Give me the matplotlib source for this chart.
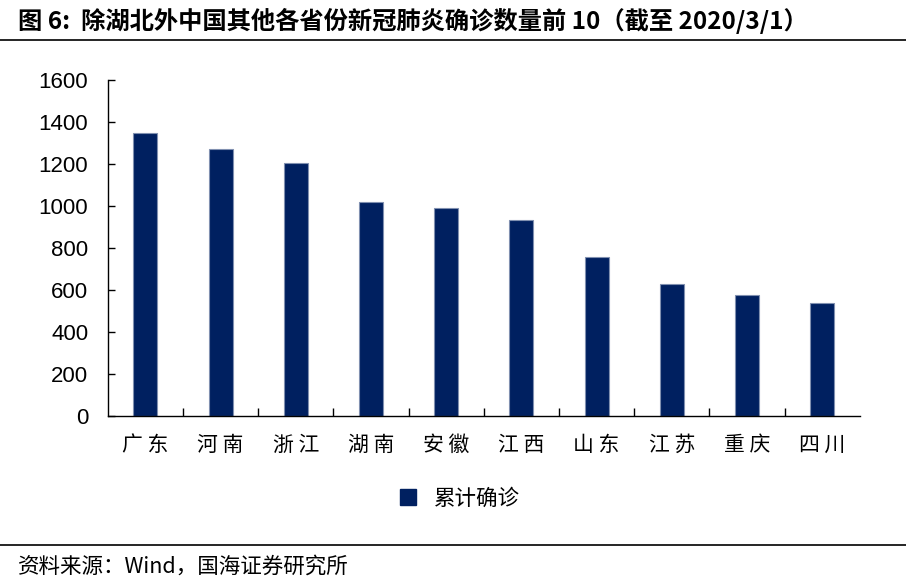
import matplotlib
matplotlib.use("Agg")
import matplotlib.pyplot as plt
from matplotlib.lines import Line2D

provinces = ["广东", "河南", "浙江", "湖南", "安徽", "江西", "山东", "江苏", "重庆", "四川"]
confirmed = [1349, 1272, 1205, 1018, 990, 935, 756, 631, 576, 538]
yticks = [0, 200, 400, 600, 800, 1000, 1200, 1400, 1600]

title = "图 6:  除湖北外中国其他各省份新冠肺炎确诊数量前 10（截至 2020/3/1）"
source = "资料来源：Wind，国海证券研究所"
series_name = "累计确诊"

cjk = ["Noto Sans CJK SC", "DejaVu Sans"]
num_font = "Liberation Sans"
bar_color = "#002060"

fig = plt.figure(figsize=(9.06, 5.85), dpi=100)
ax = fig.add_axes([0.119, 0.289, 0.830, 0.574])

x = list(range(len(provinces)))
ax.bar(x, confirmed, width=0.32, color=bar_color, edgecolor="#8090b0", linewidth=0.8)

ax.set_xlim(-0.5, len(provinces) - 0.5)
ax.set_ylim(0, 1600)
ax.set_yticks(yticks)
ax.set_yticklabels([str(v) for v in yticks], fontfamily=num_font, fontsize=16)
ax.tick_params(axis="y", direction="in", length=5, width=1, pad=14)

# category labels centred on bars, tick marks between categories
ax.set_xticks(x)
ax.set_xticklabels([" ".join(p) for p in provinces], fontfamily=cjk, fontsize=15)
ax.tick_params(axis="x", length=0, pad=13)
ax.set_xticks([i + 0.5 for i in x[:-1]], minor=True)
ax.tick_params(axis="x", which="minor", direction="in", length=6, width=1)

for s in ["top", "right"]:
    ax.spines[s].set_visible(False)
ax.spines["left"].set_linewidth(1)
ax.spines["bottom"].set_linewidth(1)

handle = Line2D([], [], marker="s", linestyle="none", color=bar_color, markersize=11)
fig.legend([handle], [series_name], loc="center", bbox_to_anchor=(0.5, 0.148),
           frameon=False, prop={"family": cjk, "size": 15.5}, handletextpad=0.2)

fig.text(0.02, 0.965, title, fontfamily=cjk, fontsize=17.5, fontweight="bold", va="center")
fig.add_artist(Line2D([0.0, 1.0], [0.932, 0.932], color="black", linewidth=1.2))
fig.add_artist(Line2D([0.0, 1.0], [0.068, 0.068], color="black", linewidth=1.2))
fig.text(0.02, 0.032, source, fontfamily=cjk, fontsize=15.5, va="center")

fig.savefig("out.png", dpi=100)
